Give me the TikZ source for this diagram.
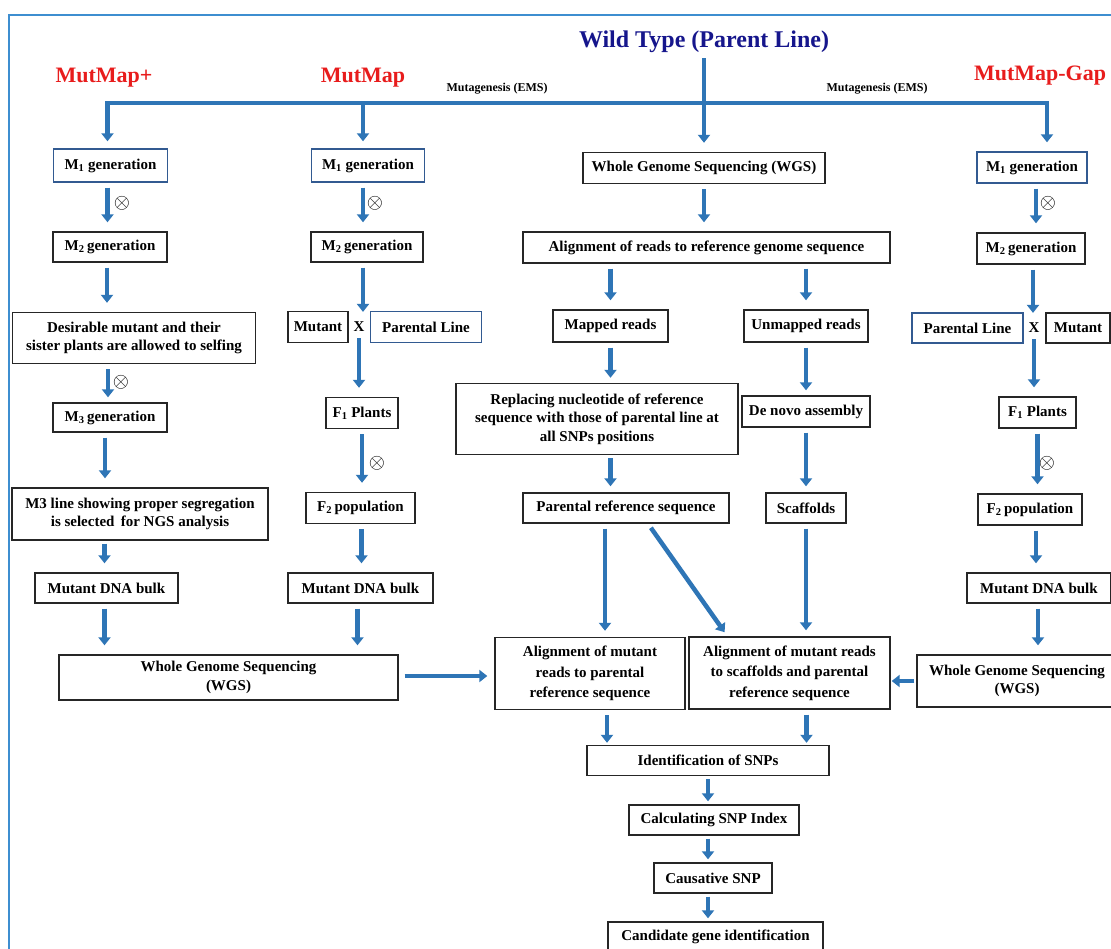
\documentclass[tikz,border=0pt]{standalone}
\usepackage{fontspec}
\setmainfont{Liberation Serif}
\usetikzlibrary{arrows.meta,calc}
\definecolor{arrblue}{RGB}{46,117,182}
\definecolor{frameblue}{RGB}{62,142,208}
\definecolor{titleblue}{RGB}{22,22,140}
\definecolor{labred}{RGB}{232,28,28}
\definecolor{boxblue}{RGB}{50,90,145}
\tikzset{
  box/.style={draw=black!85, line width=1.4pt, align=center, inner sep=1pt,
    font=\bfseries\fontsize{15}{18.5}\selectfont},
  bbox/.style={box, draw=boxblue},
  arr/.style={draw=arrblue, line width=4.5pt, -{Triangle[width=12pt,length=8pt]},
    shorten <=5pt, shorten >=9pt},
  otim/.style={inner sep=0pt, font=\fontsize{22}{22}\selectfont},
  crossx/.style={inner sep=1pt, font=\bfseries\fontsize{15}{15}\selectfont},
  meth/.style={text=labred, font=\bfseries\fontsize{22}{22}\selectfont},
  muta/.style={font=\bfseries\fontsize{12}{12}\selectfont},
}
\begin{document}
\begin{tikzpicture}[x=1pt,y=-1pt]
\useasboundingbox (0,0) rectangle (1111,948);
\clip (0,0) rectangle (1111,948);
\fill[white] (0,0) rectangle (1111,948);
% frame
\draw[frameblue, line width=2pt] (9,1000) -- (9,15) -- (1200,15);

% headings
\node[text=titleblue, font=\bfseries\fontsize{24}{24}\selectfont] (title) at (704,42) {Wild Type (Parent Line)};
\node[meth] (lmp) at (104,78) {MutMap+};
\node[meth] (lm) at (363,78) {MutMap};
\node[meth] (lmg) at (1040,76) {MutMap-Gap};
\node[muta] (mu1) at (497,89) {Mutagenesis (EMS)};
\node[muta] (mu2) at (877,89) {Mutagenesis (EMS)};

% left column (MutMap+)
\node[bbox, minimum width=114pt, minimum height=33pt] (m1a) at (110.5,165.5) {M\textsubscript{1} generation};
\node[box, minimum width=114pt, minimum height=30pt] (m2a) at (110,247) {M\textsubscript{2}\,generation};
\node[box, minimum width=243pt, minimum height=51pt] (desa) at (134,338) {Desirable mutant and their\\sister plants are allowed to selfing};
\node[box, minimum width=114pt, minimum height=29pt] (m3a) at (110,417.5) {M\textsubscript{3}\,generation};
\node[box, minimum width=256pt, minimum height=52pt] (m3l) at (140,514) {M3 line showing proper segregation\\is selected\, for NGS analysis};
\node[box, minimum width=143pt, minimum height=30pt] (mdba) at (106.5,588) {Mutant DNA bulk};
\node[box, minimum width=339pt, minimum height=45pt] (wgsl) at (228.5,677.5) {Whole Genome Sequencing\\(WGS)};

% middle column (MutMap)
\node[bbox, minimum width=113pt, minimum height=33pt] (m1b) at (368,165.5) {M\textsubscript{1} generation};
\node[box, minimum width=112pt, minimum height=30pt] (m2b) at (367,247) {M\textsubscript{2}\,generation};
\node[box, minimum width=60pt, minimum height=31pt] (mutb) at (318,327) {Mutant};
\node[crossx] (xb) at (359,327) {X};
\node[bbox, minimum width=111pt, minimum height=31pt] (parb) at (426,327) {Parental Line};
\node[box, minimum width=72pt, minimum height=31pt] (f1b) at (362,413) {F\textsubscript{1} Plants};
\node[box, minimum width=109pt, minimum height=31pt] (f2b) at (360.5,508) {F\textsubscript{2}\,population};
\node[box, minimum width=145pt, minimum height=30pt] (mdbb) at (360.5,588) {Mutant DNA bulk};

% centre column
\node[box, minimum width=242pt, minimum height=31pt] (wgsc) at (704,168) {Whole Genome Sequencing (WGS)};
\node[box, minimum width=367pt, minimum height=31pt] (aln) at (706.5,247.5) {Alignment of reads to reference genome sequence};
\node[box, minimum width=115pt, minimum height=32pt] (mapd) at (610.5,326) {Mapped reads};
\node[box, minimum width=124pt, minimum height=32pt] (unmp) at (806,326) {Unmapped reads};
\node[box, minimum width=282pt, minimum height=71pt] (repl) at (597,419) {Replacing nucleotide of reference\\sequence with those of parental line at\\all SNPs positions};
\node[box, minimum width=128pt, minimum height=31pt] (dnov) at (806,411.5) {De novo assembly};
\node[box, minimum width=206pt, minimum height=30pt] (pref) at (626,508) {Parental reference sequence};
\node[box, minimum width=80pt, minimum height=30pt] (scaf) at (806,508) {Scaffolds};
\node[box, minimum width=190pt, minimum height=72pt, font=\bfseries\fontsize{15}{20.5}\selectfont] (alm) at (590,673.5) {Alignment of mutant\\reads to parental\\reference sequence};
\node[box, minimum width=201pt, minimum height=72pt, font=\bfseries\fontsize{15}{20.5}\selectfont] (als) at (789.5,673) {Alignment of mutant reads\\to scaffolds and parental\\reference sequence};
\node[box, minimum width=242pt, minimum height=30pt] (idnt) at (708,760.5) {Identification of SNPs};
\node[box, minimum width=170pt, minimum height=30pt] (calc) at (714,820) {Calculating SNP Index};
\node[box, minimum width=118pt, minimum height=30pt] (caus) at (713,878) {Causative SNP};
\node[box, minimum width=215pt, minimum height=30pt] (cand) at (715.5,937) {Candidate gene identification};

% right column (MutMap-Gap)
\node[bbox, minimum width=110pt, minimum height=31pt] (m1c) at (1032,167.5) {M\textsubscript{1} generation};
\node[box, minimum width=108pt, minimum height=31pt] (m2c) at (1031,248.5) {M\textsubscript{2}\,generation};
\node[bbox, minimum width=111pt, minimum height=30pt] (parc) at (967.5,328) {Parental Line};
\node[crossx] (xc) at (1034,328) {X};
\node[box, minimum width=64pt, minimum height=30pt] (mutc) at (1078,328) {Mutant};
\node[box, minimum width=77pt, minimum height=31pt] (f1c) at (1037.5,412.5) {F\textsubscript{1} Plants};
\node[box, minimum width=104pt, minimum height=31pt] (f2c) at (1030,509.5) {F\textsubscript{2}\,population};
\node[box, minimum width=144pt, minimum height=30pt] (mdbc) at (1039,588) {Mutant DNA bulk};
\node[box, minimum width=200pt, minimum height=52pt] (wgsr) at (1017,681) {Whole Genome Sequencing\\(WGS)};

% selfing symbols
\node[otim] (o1) at (122,203) {$\otimes$};
\node[otim] (o2) at (375,203) {$\otimes$};
\node[otim] (o3) at (1048,203) {$\otimes$};
\node[otim] (o4) at (121,382) {$\otimes$};
\node[otim] (o5) at (377,463) {$\otimes$};
\node[otim] (o6) at (1047,463) {$\otimes$};

% top connectors
\coordinate (hub) at (704,103);
\draw[arr, shorten <=2pt] (title.south) -- (title.south |- wgsc.north);
\draw[arr, shorten <=0pt, shorten >=7pt] (hub) -| ([xshift=-3pt]m1a.north);
\draw[arr, shorten <=0pt] (hub) -| ([xshift=15pt]m1c.north);
\draw[arr, shorten <=0pt, shorten >=7pt] ([xshift=-5pt]m1b.north |- hub) -- ([xshift=-5pt]m1b.north);

% left column connectors
\draw[arr] ([xshift=-3pt]m1a.south) -- ([xshift=-3pt]m1a.south |- m2a.north);
\draw[arr] ([xshift=-3pt]m2a.south) -- ([xshift=-3pt]m2a.south |- desa.north);
\draw[arr, shorten >=5pt] ([xshift=-26pt]desa.south) -- ([xshift=-26pt]desa.south |- m3a.north);
\draw[arr] ([xshift=-5pt]m3a.south) -- ([xshift=-5pt]m3a.south |- m3l.north);
\draw[arr, shorten <=3pt, shorten >=9pt] ([xshift=-2pt]mdba.north |- m3l.south) -- ([xshift=-2pt]mdba.north);
\draw[arr] ([xshift=-2pt]mdba.south) -- ([xshift=-2pt]mdba.south |- wgsl.north);

% middle column connectors
\draw[arr] ([xshift=-5pt]m1b.south) -- ([xshift=-5pt]m1b.south |- m2b.north);
\draw[arr] ([xshift=-4pt]m2b.south) -- ([xshift=-4pt]m2b.south |- xb.north);
\draw[arr] (xb.south) -- (xb.south |- f1b.north);
\draw[arr] (f1b.south) -- (f1b.south |- f2b.north);
\draw[arr] ([xshift=1pt]f2b.south) -- ([xshift=1pt]f2b.south |- mdbb.north);
\draw[arr] ([xshift=-3pt]mdbb.south) -- ([xshift=-3pt]mdbb.south |- wgsl.north);

% centre connectors
\draw[arr] (wgsc.south) -- (wgsc.south |- aln.north);
\draw[arr] (mapd.north |- aln.south) -- (mapd.north);
\draw[arr] (unmp.north |- aln.south) -- (unmp.north);
\draw[arr, shorten >=5pt] (mapd.south) -- (mapd.south |- repl.north);
\draw[arr, shorten >=5pt] (unmp.south) -- (unmp.south |- dnov.north);
\draw[arr, shorten <=3pt, shorten >=6pt] (mapd.south |- repl.south) -- (mapd.south |- pref.north);
\draw[arr, shorten >=6pt] (dnov.south) -- (dnov.south |- scaf.north);
\draw[arr, shorten >=6pt] ([xshift=-21pt]pref.south) -- ([xshift=-21pt]pref.south |- alm.north);
\draw[arr, shorten >=5pt] ([xshift=22pt]pref.south) -- ([xshift=-62pt]als.north);
\draw[arr, shorten >=6pt] (scaf.south) -- (scaf.south |- als.north);
\draw[arr, shorten <=6pt, shorten >=7pt] ([yshift=1.5pt]wgsl.east) -- ([yshift=1.5pt]wgsl.east -| alm.west);
\draw[arr, shorten <=2pt, shorten >=1pt] (wgsr.west) -- (wgsr.west -| als.east);
\draw[arr, shorten >=2pt] ([xshift=17pt]alm.south) -- ([xshift=17pt]alm.south |- idnt.north);
\draw[arr, shorten >=2pt] ([xshift=17pt]als.south) -- ([xshift=17pt]als.south |- idnt.north);
\draw[arr, shorten <=3pt, shorten >=3pt] (idnt.south) -- (idnt.south |- calc.north);
\draw[arr, shorten <=3pt, shorten >=3pt] ([xshift=-6pt]calc.south) -- ([xshift=-6pt]calc.south |- caus.north);
\draw[arr, shorten <=3pt, shorten >=3pt] ([xshift=-5pt]caus.south) -- ([xshift=-5pt]caus.south |- cand.north);

% right column connectors
\draw[arr] ([xshift=4pt]m1c.south) -- ([xshift=4pt]m1c.south |- m2c.north);
\draw[arr] ([xshift=2pt]m2c.south) -- ([xshift=2pt]m2c.south |- xc.north);
\draw[arr] (xc.south) -- (xc.south |- f1c.north);
\draw[arr] (f1c.south) -- (f1c.south |- f2c.north);
\draw[arr] ([xshift=6pt]f2c.south) -- ([xshift=6pt]f2c.south |- mdbc.north);
\draw[arr] ([xshift=-1pt]mdbc.south) -- ([xshift=-1pt]mdbc.south |- wgsr.north);
\end{tikzpicture}
\end{document}
